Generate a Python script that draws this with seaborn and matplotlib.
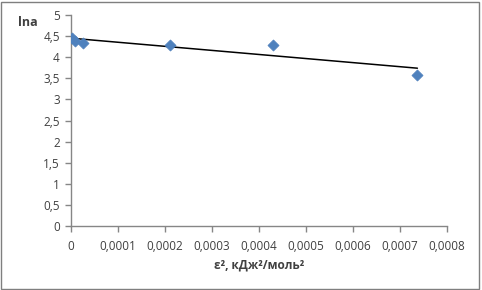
import matplotlib
matplotlib.use("Agg")
import matplotlib.pyplot as plt
import numpy as np
import pandas as pd
import seaborn as sns
from matplotlib.patches import Rectangle
from matplotlib.ticker import FuncFormatter

# data
eps2 = [0.000003, 0.000008, 0.000025, 0.00021, 0.00043, 0.000737]
ln_a = [4.45, 4.39, 4.33, 4.30, 4.29, 3.58]

x_ticks = [0, 0.0001, 0.0002, 0.0003, 0.0004, 0.0005, 0.0006, 0.0007, 0.0008]
y_ticks = [0, 0.5, 1, 1.5, 2, 2.5, 3, 3.5, 4, 4.5, 5]

df = pd.DataFrame({"eps2": eps2, "ln_a": ln_a})

sns.set_style("white")
plt.rcParams["font.family"] = ["Open Sans", "DejaVu Sans"]

fig = plt.figure(figsize=(4.82, 2.90), dpi=100)
ax = fig.add_axes([71 / 482, 1 - 226 / 290, (447 - 71) / 482, (226 - 15) / 290])

# linear trendline (least squares over the points)
slope, intercept = np.polyfit(df["eps2"], df["ln_a"], 1)
xs = np.array([0, df["eps2"].max()])
ax.plot(xs, slope * xs + intercept, color="black", lw=1.1, zorder=2)

sns.scatterplot(data=df, x="eps2", y="ln_a", marker="D", s=32,
                color="#4F81BD", edgecolor="#4F81BD", linewidth=0.5,
                ax=ax, zorder=3)

ax.set_xlim(x_ticks[0], x_ticks[-1])
ax.set_ylim(y_ticks[0], y_ticks[-1])
ax.set_xticks(x_ticks)
ax.set_yticks(y_ticks)


def comma(v, pos):
    if abs(v) < 1e-12:
        return "0"
    s = f"{v:.4f}" if abs(v) < 0.01 else f"{v:g}"
    return s.replace(".", ",")


ax.xaxis.set_major_formatter(FuncFormatter(comma))
ax.yaxis.set_major_formatter(FuncFormatter(comma))

for side in ["top", "right"]:
    ax.spines[side].set_visible(False)
for side in ["left", "bottom"]:
    ax.spines[side].set_color("#868686")
    ax.spines[side].set_linewidth(1.0)

ax.tick_params(axis="both", direction="out", length=4, width=1.0,
               color="#868686", labelsize=8.5, labelcolor="#404040",
               bottom=True, left=True)
ax.tick_params(axis="x", pad=6)
ax.tick_params(axis="y", pad=4)

ax.set_xlabel("ε², кДж²/моль²", fontsize=8.5, fontweight="bold",
              color="#404040", labelpad=4)
ax.set_ylabel("")
fig.text(28 / 482, 1 - 22 / 290, "lna", fontsize=9, fontweight="bold",
         color="#404040", ha="center", va="center")

# chart area border
fig.patches.append(Rectangle((0.002, 0.004), 0.992, 0.99, transform=fig.transFigure,
                             fill=False, edgecolor="#7f7f7f", lw=1.0))

fig.savefig("out.png", dpi=100)
